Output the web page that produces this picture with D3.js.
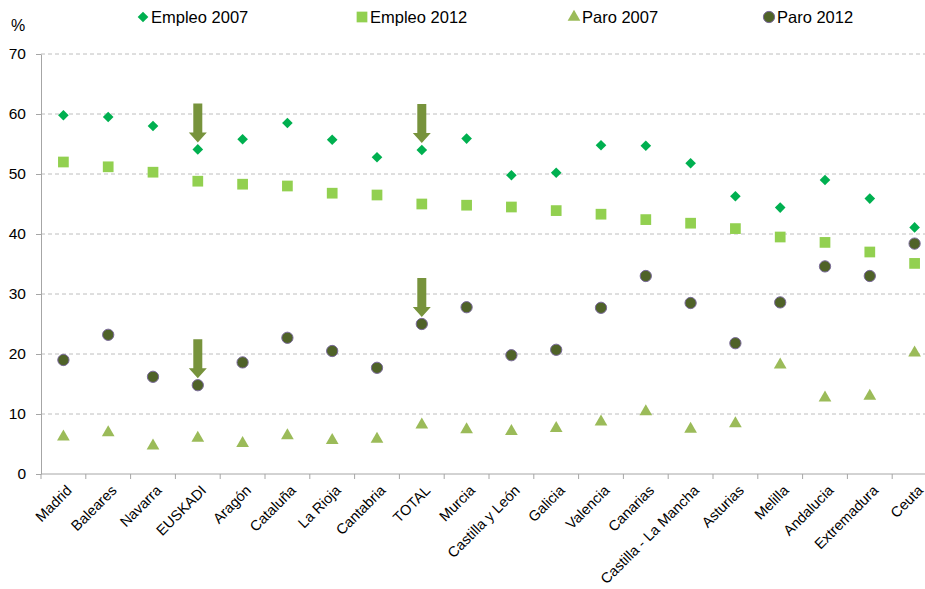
<!DOCTYPE html>
<html>
<head>
<meta charset="utf-8">
<script src="https://cdn.jsdelivr.net/npm/d3@7/dist/d3.min.js"></script>
<style>
  body { margin: 0; background: #fff; }
  svg { display: block; font-family: "Liberation Sans", Arial, sans-serif; }
</style>
</head>
<body>
<div id="chart"></div>
<script>
'use strict'

// Regions, in the order of the chart
var regiones = ['Madrid', 'Baleares', 'Navarra', 'EUSKADI', 'Aragón', 'Cataluña', 'La Rioja',
  'Cantabria', 'TOTAL', 'Murcia', 'Castilla y León', 'Galicia', 'Valencia', 'Canarias',
  'Castilla - La Mancha', 'Asturias', 'Melilla', 'Andalucia', 'Extremadura', 'Ceuta']

var empleo2007 = [59.8, 59.5, 58.0, 54.1, 55.8, 58.5, 55.7, 52.8, 54.0, 55.9,
  49.8, 50.2, 54.8, 54.7, 51.8, 46.3, 44.4, 49.0, 45.9, 41.1]
var empleo2012 = [52.0, 51.2, 50.3, 48.8, 48.3, 48.0, 46.8, 46.5, 45.0, 44.8,
  44.5, 43.9, 43.3, 42.4, 41.8, 40.9, 39.5, 38.6, 37.0, 35.1]
var paro2007 = [6.2, 6.9, 4.7, 6.0, 5.1, 6.4, 5.6, 5.8, 8.2, 7.4,
  7.1, 7.6, 8.7, 10.4, 7.5, 8.4, 18.2, 12.7, 13.0, 20.2]
var paro2012 = [19.0, 23.2, 16.2, 14.8, 18.6, 22.7, 20.5, 17.7, 25.0, 27.8,
  19.8, 20.7, 27.7, 33.0, 28.5, 21.8, 28.6, 34.6, 33.0, 38.4]

var yTicks = [0, 10, 20, 30, 40, 50, 60, 70]

// arrows pointing at some marks
var flechas = [
  {region: 'EUSKADI', serie: empleo2007},
  {region: 'TOTAL', serie: empleo2007},
  {region: 'TOTAL', serie: paro2012},
  {region: 'EUSKADI', serie: paro2012}
]

var W = 925, H = 589
var margin = {top: 54, left: 41, bottom: 115}
var band = 44.8

var svg = d3.select('#chart').append('svg')
  .attr('width', W).attr('height', H)

var x = d3.scaleBand()
  .domain(regiones)
  .range([margin.left, margin.left + band * regiones.length])
  .padding(0)

var y = d3.scaleLinear()
  .domain([0, 70])
  .range([H - margin.bottom, margin.top])

var cx = function(i) { return x(regiones[i]) + x.bandwidth() / 2 }

// grid lines
svg.append('g')
  .selectAll('line')
  .data(yTicks.filter(function(d) { return d > 0 }))
  .enter().append('line')
  .attr('x1', margin.left).attr('x2', W)
  .attr('y1', function(d) { return y(d) }).attr('y2', function(d) { return y(d) })
  .attr('stroke', '#BEBEBE')
  .attr('stroke-width', 1)
  .attr('stroke-dasharray', '4,3')

// y axis
var yAxis = svg.append('g')
  .attr('transform', 'translate(' + margin.left + ',0)')
  .call(d3.axisLeft(y).tickValues(yTicks).tickSize(5).tickSizeOuter(0).tickPadding(10))
yAxis.select('.domain').attr('stroke', '#A6A6A6')
yAxis.selectAll('.tick line').attr('stroke', '#A6A6A6')
yAxis.selectAll('text').attr('font-size', '15.5px').attr('fill', '#000')
  .attr('font-family', '"Liberation Sans", Arial, sans-serif')

svg.append('text')
  .attr('x', 11).attr('y', 31)
  .attr('font-size', '16px')
  .text('%')

// x axis line and boundary ticks
var y0 = y(0)
svg.append('line')
  .attr('x1', margin.left).attr('x2', W)
  .attr('y1', y0).attr('y2', y0)
  .attr('stroke', '#A6A6A6')
svg.append('g')
  .selectAll('line')
  .data(regiones)
  .enter().append('line')
  .attr('x1', function(d) { return x(d) }).attr('x2', function(d) { return x(d) })
  .attr('y1', y0).attr('y2', y0 + 5)
  .attr('stroke', '#A6A6A6')

// rotated category labels
svg.append('g')
  .selectAll('text')
  .data(regiones)
  .enter().append('text')
  .attr('transform', function(d) {
    return 'translate(' + (x(d) + x.bandwidth() / 2 + 2) + ',' + (y0 + 10) + ') rotate(-45)'
  })
  .attr('text-anchor', 'end')
  .attr('dy', '0.72em')
  .attr('font-size', '14.5px')
  .text(function(d) { return d })

// marks
var sym = {
  diamond: d3.symbol().type(d3.symbolDiamond2).size(72),
  square: d3.symbol().type(d3.symbolSquare).size(115),
  triangle: d3.symbol().type(d3.symbolTriangle).size(70),
  circle: d3.symbol().type(d3.symbolCircle).size(100)
}

var series = [
  {name: 'Empleo 2007', values: empleo2007, sym: sym.diamond, fill: '#00B050', stroke: 'none'},
  {name: 'Empleo 2012', values: empleo2012, sym: sym.square, fill: '#92D050', stroke: 'none'},
  {name: 'Paro 2007', values: paro2007, sym: sym.triangle, fill: '#9BBB59', stroke: 'none'},
  {name: 'Paro 2012', values: paro2012, sym: sym.circle, fill: '#4F6228', stroke: '#7A6A9A'}
]

series.forEach(function(s) {
  svg.append('g')
    .selectAll('path')
    .data(s.values)
    .enter().append('path')
    .attr('transform', function(d, i) { return 'translate(' + cx(i) + ',' + y(d) + ')' })
    .attr('d', s.sym)
    .attr('fill', s.fill)
    .attr('stroke', s.stroke)
    .attr('stroke-width', 1)
})

// arrows
flechas.forEach(function(f) {
  var i = regiones.indexOf(f.region)
  var tx = cx(i), ty = y(f.serie[i]) - 7
  var p = d3.path()
  p.moveTo(tx - 4.5, ty - 39)
  p.lineTo(tx + 4.5, ty - 39)
  p.lineTo(tx + 4.5, ty - 10)
  p.lineTo(tx + 9, ty - 10)
  p.lineTo(tx, ty)
  p.lineTo(tx - 9, ty - 10)
  p.lineTo(tx - 4.5, ty - 10)
  p.closePath()
  svg.append('path')
    .attr('d', p.toString())
    .attr('fill', '#77933C')
})

// legend
var legX = [143, 362, 574, 769]
var leg = svg.append('g')
series.forEach(function(s, k) {
  var g = leg.append('g').attr('transform', 'translate(' + legX[k] + ',17)')
  g.append('path').attr('d', s.sym).attr('fill', s.fill).attr('stroke', s.stroke)
  g.append('text')
    .attr('x', 8).attr('dy', '0.35em')
    .attr('font-size', '16.5px')
    .text(s.name)
})
</script>
</body>
</html>
